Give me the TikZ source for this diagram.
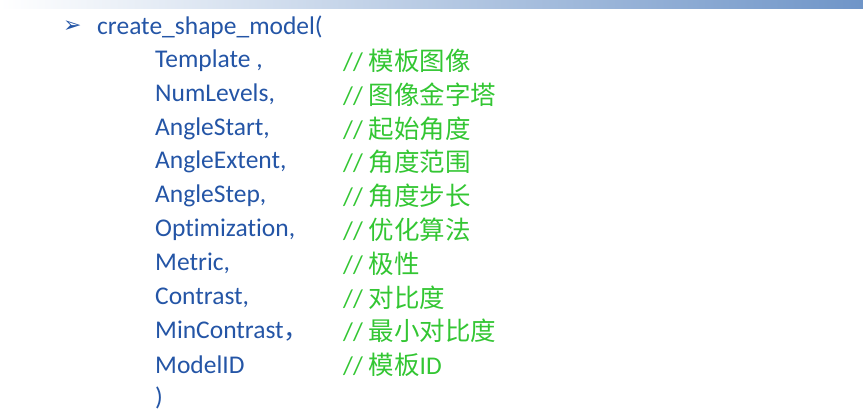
\documentclass[tikz,border=0pt]{standalone}
\usepackage{fontspec}
\setmainfont[Ligatures=NoCommon]{Carlito}
\newfontfamily\cjk{Noto Sans CJK SC}
\newfontfamily\dejav{DejaVu Sans}
\definecolor{txtblue}{HTML}{2455A6}
\definecolor{cmtgreen}{HTML}{33C633}
\definecolor{barblue}{HTML}{6F95C8}
\begin{document}
\begin{tikzpicture}[x=1pt,y=-1pt,
  param/.style={anchor=west,text=txtblue,font=\fontsize{25.5}{27}\selectfont,inner sep=0pt},
  cmt/.style={anchor=west,text=cmtgreen,font=\fontsize{25.5}{27}\selectfont,inner sep=0pt}]
\useasboundingbox (0,0) rectangle (863,418);
\shade[left color=white,right color=barblue] (0,0) rectangle (863,8);
\node[anchor=west,text=txtblue,inner sep=0pt,font=\dejav\fontsize{22}{24}\selectfont] (b) at (63,27) {➢};
\node[param] (t) at (97,27) {create\_shape\_model(};
\foreach \i/\p/\c in {1/{Template ,}/模板图像,2/{NumLevels,}/图像金字塔,3/{AngleStart,}/起始角度,4/{AngleExtent,}/角度范围,5/{AngleStep,}/角度步长,6/{Optimization,}/优化算法,7/{Metric,}/极性,8/{Contrast,}/对比度,9/{MinContrast{\cjk ，}}/最小对比度,10/{ModelID}/{模板\rmfamily ID}}{
  \node[param] (p\i) at (155,{27+\i*33.8}) {\p};
  \node[cmt] (c\i) at (343,{27+\i*33.8}) {// {\cjk\c}};
}
\node[param] (close) at (155,398) {)};
\end{tikzpicture}
\end{document}
